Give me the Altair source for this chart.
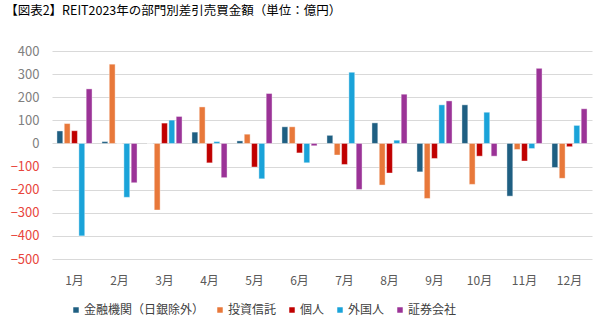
import altair as alt
import pandas as pd

months = ["1月", "2月", "3月", "4月", "5月", "6月", "7月", "8月", "9月", "10月", "11月", "12月"]
sectors = ["金融機関（日銀除外）", "投資信託", "個人", "外国人", "証券会社"]
colors = ["#1f5f82", "#e8783a", "#c00000", "#1aa3d9", "#9b3397"]

kinyu = [54, 8, 0, 49, 11, 72, 35, 89, -123, 167, -228, -104]
toshin = [86, 343, -288, 158, 40, 72, -50, -180, -238, -177, -26, -151]
kojin = [55, 0, 88, -84, -102, -41, -91, -128, -65, -55, -76, -14]
gaikoku = [-400, -233, 101, 8, -153, -84, 308, 14, 167, 135, -22, 78]
shoken = [236, -170, 117, -148, 216, -10, -199, 213, 184, -55, 325, 150]

series = [kinyu, toshin, kojin, gaikoku, shoken]
rows = []
for s, vals in zip(sectors, series):
    for m, v in zip(months, vals):
        rows.append({"month": m, "sector": s, "value": v})
df = pd.DataFrame(rows)

font = "Noto Sans CJK JP"

chart = alt.Chart(df).mark_bar(stroke="white", strokeWidth=0.4).encode(
    x=alt.X("month:N", sort=months, title=None,
            scale=alt.Scale(paddingInner=0.22, paddingOuter=0.11),
            axis=alt.Axis(labelAngle=0, labelColor="#595959", labelFontSize=12,
                          labelFont=font, ticks=False, domain=False,
                          labelPadding=16, grid=False)),
    xOffset=alt.XOffset("sector:N", sort=sectors,
                        scale=alt.Scale(paddingInner=0.2, paddingOuter=0)),
    y=alt.Y("value:Q", title=None,
            scale=alt.Scale(domain=[-500, 400], nice=False),
            axis=alt.Axis(values=list(range(-500, 401, 100)), ticks=False, domain=False,
                          labelFontSize=13, labelFont=font, labelPadding=13,
                          gridColor="#d9d9d9", gridWidth=1,
                          labelColor={"condition": {"test": "datum.value < 0", "value": "#e8453c"},
                                      "value": "#808080"})),
    color=alt.Color("sector:N", sort=sectors,
                    scale=alt.Scale(domain=sectors, range=colors),
                    legend=alt.Legend(title=None, orient="none", direction="horizontal",
                                      legendX=18, legendY=253, symbolType="square",
                                      symbolSize=30, labelFontSize=12, labelFont=font,
                                      labelColor="#404040", columnPadding=9,
                                      symbolStrokeWidth=0, labelOffset=2)),
).properties(
    width=540,
    height=208,
    padding={"left": 52, "top": 51, "right": 8, "bottom": 67},
    autosize=alt.AutoSizeParams(type="none"),
    title=alt.TitleParams("【図表2】REIT2023年の部門別差引売買金額（単位：億円）",
                          anchor="start", fontSize=12.5, fontWeight="normal",
                          font=font, color="#000000", dx=-5, dy=-24),
).configure_view(stroke=None)

chart.save("out.html", embed_options={"renderer": "svg", "actions": False})
